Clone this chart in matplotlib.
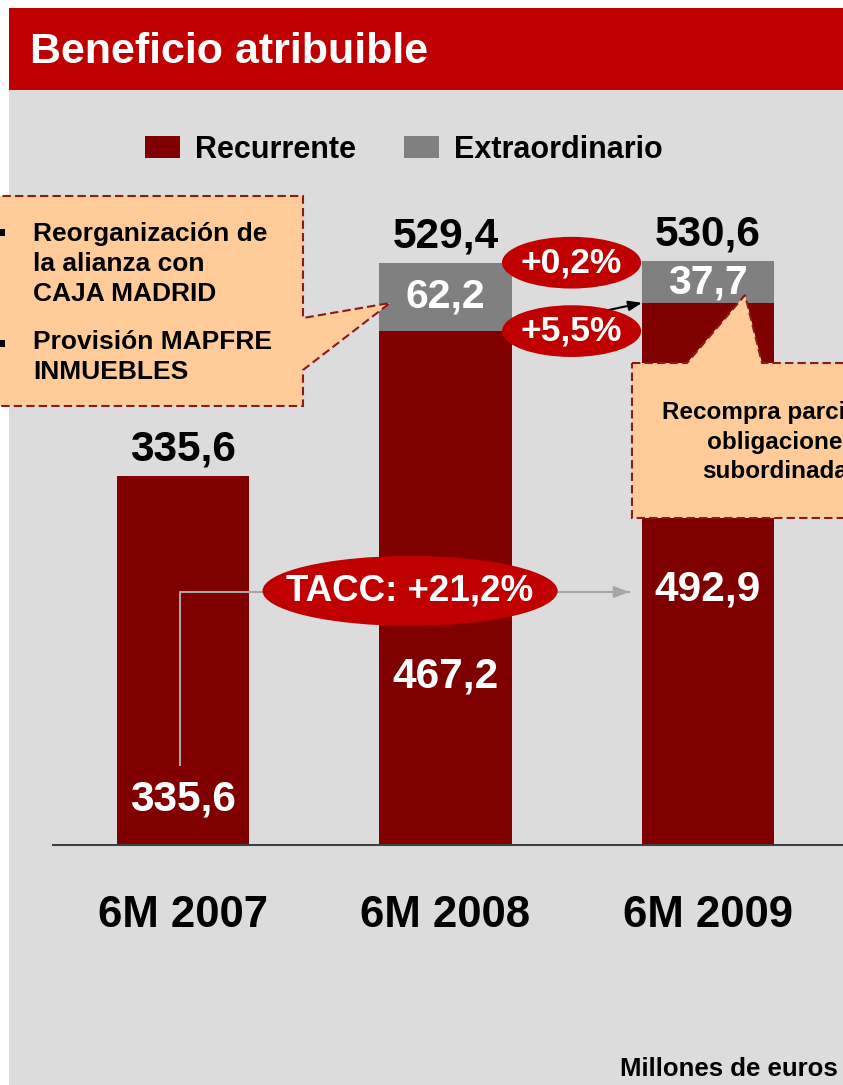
import matplotlib
matplotlib.use("Agg")
import matplotlib.pyplot as plt
from matplotlib.patches import Rectangle, Polygon, Ellipse

plt.rcParams['font.family'] = ['Liberation Sans', 'DejaVu Sans']
plt.rcParams['font.weight'] = 'bold'

# data
periods = ["6M 2007", "6M 2008", "6M 2009"]
recurrente = [335.6, 467.2, 492.9]
extraordinario = [0.0, 62.2, 37.7]
totales = [335.6, 529.4, 530.6]
rec_labels = ["335,6", "467,2", "492,9"]
ext_labels = ["", "62,2", "37,7"]
tot_labels = ["335,6", "529,4", "530,6"]
rec_label_y = [41, 153, 232]

DARK_RED = "#800000"
GREY = "#808080"
HEAD_RED = "#C00000"
PANEL = "#DCDCDC"
PEACH = "#FFCC99"

W, H = 843, 1085
fig = plt.figure(figsize=(W / 100, H / 100), dpi=100)
fig.patch.set_facecolor("white")

# background panel and header
fig.add_artist(Rectangle((9 / W, 0), 1, (H - 90) / H, transform=fig.transFigure,
                         facecolor=PANEL, edgecolor="none", zorder=-2))
fig.add_artist(Rectangle((9 / W, (H - 90) / H), 1, 82 / H, transform=fig.transFigure,
                         facecolor=HEAD_RED, edgecolor="none", zorder=-2))
fig.text(30 / W, 1 - 52 / H, "Beneficio atribuible", color="white", fontsize=31,
         fontweight="bold", va="center", ha="left")

# main chart
ax = fig.add_axes([53 / W, 240 / H, 790 / W, 745 / H], zorder=1)
ax.patch.set_alpha(0)
x = list(range(len(periods)))
bw = 0.503
ax.bar(x, recurrente, width=bw, color=DARK_RED, label="Recurrente", zorder=2)
ax.bar(x, extraordinario, width=bw, bottom=recurrente, color=GREY,
       label="Extraordinario", zorder=2)
ax.set_xlim(-0.495, 2.514)
ax.set_ylim(0, 677.3)
ax.set_yticks([])
ax.set_xticks(x)
ax.set_xticklabels(periods, fontsize=31.5, fontweight="bold")
ax.tick_params(axis="x", length=0, pad=36)
for s in ["left", "right", "top"]:
    ax.spines[s].set_visible(False)
ax.spines["bottom"].set_color("#404040")
ax.spines["bottom"].set_linewidth(1.5)

for i in x:
    ax.text(i, totales[i] + 24, tot_labels[i], ha="center", va="center",
            fontsize=30.5, fontweight="bold", color="black")
    ax.text(i, rec_label_y[i], rec_labels[i], ha="center", va="center",
            fontsize=30.5, fontweight="bold", color="white", zorder=3)
    if extraordinario[i] > 0:
        ax.text(i, recurrente[i] + extraordinario[i] / 2, ext_labels[i], ha="center",
                va="center", fontsize=29.5, fontweight="bold", color="white", zorder=3)

# legend
ax.legend(loc="center", bbox_to_anchor=(404 / W, 1 - 150 / H), bbox_transform=fig.transFigure,
          ncol=2, frameon=False, prop={"size": 22, "weight": "bold"},
          handlelength=1.14, handleheight=0.72, handletextpad=0.5, columnspacing=1.55)

# TACC connector
ax.plot([-0.01, -0.01, 1.70], [73, 230, 230], color="#A6A6A6", lw=1.5, zorder=4)
ax.annotate("", xy=(1.71, 230), xytext=(1.62, 230),
            arrowprops=dict(arrowstyle="-|>,head_length=0.9,head_width=0.35",
                            color="#A6A6A6", lw=1.5), zorder=4)
ax.add_patch(Ellipse((0.865, 231), 1.124, 63.6, facecolor=HEAD_RED, edgecolor="none", zorder=5))
ax.text(0.865, 231, "TACC: +21,2%", ha="center", va="center", fontsize=26.5,
        fontweight="bold", color="white", zorder=6)

# arrow between recurrent tops
ax.annotate("", xy=(2 - bw / 2, recurrente[2]), xytext=(1 + bw / 2, recurrente[1]),
            arrowprops=dict(arrowstyle="-|>,head_length=0.8,head_width=0.3",
                            color="black", lw=1.5, shrinkA=0, shrinkB=0), zorder=4)

# growth ellipses
for yv, txt in [(totales[1], "+0,2%"), (recurrente[1], "+5,5%")]:
    ax.add_patch(Ellipse((1.48, yv), 0.53, 47, facecolor=HEAD_RED, edgecolor="none", zorder=5))
    ax.text(1.48, yv, txt, ha="center", va="center", fontsize=25.5,
            fontweight="bold", color="white", zorder=6)

# overlay for callouts (pixel coordinates)
ov = fig.add_axes([0, 0, 1, 1], zorder=2)
ov.set_xlim(0, W)
ov.set_ylim(H, 0)
ov.axis("off")
ov.patch.set_alpha(0)

left_box = [(-10, 196), (303, 196), (303, 318), (390, 303), (303, 370), (303, 406), (-10, 406)]
right_box = [(632, 363), (687, 363), (745, 295), (762, 363), (900, 363), (900, 518), (632, 518)]
for pts in [left_box, right_box]:
    ov.add_patch(Polygon(pts, closed=True, facecolor=PEACH, edgecolor="#8B1A1A",
                         lw=1.5, linestyle=(0, (4, 2)), clip_on=False))

ov.add_patch(Rectangle((0, 229), 5, 7, facecolor="black", edgecolor="none"))
ov.add_patch(Rectangle((0, 340), 5, 7, facecolor="black", edgecolor="none"))
ov.text(33, 264, "Reorganización de\nla alianza con\nCAJA MADRID", ha="left", va="center",
        fontsize=19, fontweight="bold", linespacing=1.33)
ov.text(33, 357, "Provisión MAPFRE\nINMUEBLES", ha="left", va="center",
        fontsize=19, fontweight="bold", linespacing=1.33)
ov.text(782, 442, "Recompra parcial de\nobligaciones\nsubordinadas", ha="center", va="center",
        multialignment="center", fontsize=17.5, fontweight="bold", linespacing=1.35)

fig.text(838 / W, 1 - 1069 / H, "Millones de euros", ha="right", va="center",
         fontsize=18.5, fontweight="bold")

fig.savefig("out.png", dpi=100)
